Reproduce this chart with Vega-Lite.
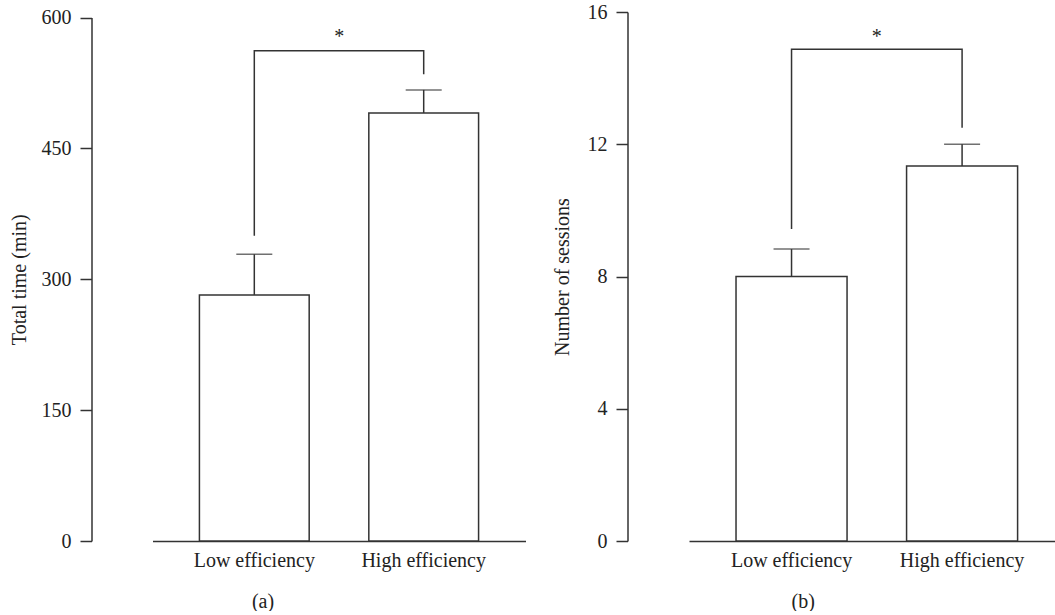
{
  "$schema": "https://vega.github.io/schema/vega-lite/v6.json",
  "padding": {"left": 8.5, "top": 2, "right": 0, "bottom": 0},
  "background": "white",
  "spacing": 26.5,
  "datasets": {
    "time": [
      {"group": "Low efficiency", "mean": 282, "upper": 328.6},
      {"group": "High efficiency", "mean": 490.6, "upper": 517}
    ],
    "timeBracket": [
      {"group": "Low efficiency", "value": 350, "order": 1},
      {"group": "Low efficiency", "value": 562, "order": 2},
      {"group": "High efficiency", "value": 562, "order": 3},
      {"group": "High efficiency", "value": 535, "order": 4}
    ],
    "timeStar": [{"group": "Low efficiency", "value": 578, "label": "*"}],
    "sessions": [
      {"group": "Low efficiency", "mean": 8.0, "upper": 8.83},
      {"group": "High efficiency", "mean": 11.34, "upper": 12.0}
    ],
    "sessionsBracket": [
      {"group": "Low efficiency", "value": 9.44, "order": 1},
      {"group": "Low efficiency", "value": 14.87, "order": 2},
      {"group": "High efficiency", "value": 14.87, "order": 3},
      {"group": "High efficiency", "value": 12.5, "order": 4}
    ],
    "sessionsStar": [{"group": "Low efficiency", "value": 15.25, "label": "*"}]
  },
  "hconcat": [
    {
      "width": 373,
      "height": 529,
      "encoding": {
        "x": {
          "field": "group", "type": "nominal",
          "sort": ["Low efficiency", "High efficiency"],
          "scale": {"paddingInner": 0.352, "paddingOuter": 0.277},
          "axis": {"title": "(a)", "titleX": 110, "titleY": 60, "titleBaseline": "middle", "titleAlign": "center", "labelAngle": 0, "ticks": false, "labelPadding": 9}
        }
      },
      "layer": [
        {
          "data": {"name": "time"},
          "mark": {"type": "bar", "fill": "white", "stroke": "#333333", "strokeWidth": 1.5},
          "encoding": {
            "y": {"field": "mean", "type": "quantitative",
              "scale": {"domain": [0, 600], "range": [529, 5.5], "nice": false},
              "axis": {"title": "Total time (min)", "values": [0, 150, 300, 450, 600], "offset": 61, "tickSize": 11.5, "labelPadding": 9, "titlePadding": 12}}
          }
        },
        {
          "data": {"name": "time"},
          "mark": {"type": "rule", "color": "#333333", "strokeWidth": 1.5},
          "encoding": {"y": {"field": "mean", "type": "quantitative"}, "y2": {"field": "upper"}}
        },
        {
          "data": {"name": "time"},
          "mark": {"type": "tick", "color": "#333333", "size": 36, "thickness": 1.5},
          "encoding": {"y": {"field": "upper", "type": "quantitative"}}
        },
        {
          "data": {"name": "timeBracket"},
          "mark": {"type": "line", "color": "#333333", "strokeWidth": 1.5},
          "encoding": {"y": {"field": "value", "type": "quantitative"}, "order": {"field": "order", "type": "quantitative"}}
        },
        {
          "data": {"name": "timeStar"},
          "mark": {"type": "text", "fontSize": 20, "font": "Liberation Serif", "color": "#222222", "dx": 85, "baseline": "middle"},
          "encoding": {"y": {"field": "value", "type": "quantitative"}, "text": {"field": "label"}}
        }
      ]
    },
    {
      "width": 366,
      "height": 529,
      "encoding": {
        "x": {
          "field": "group", "type": "nominal",
          "sort": ["Low efficiency", "High efficiency"],
          "scale": {"paddingInner": 0.349, "paddingOuter": 0.2475, "align": 0.557},
          "axis": {"title": "(b)", "titleX": 113.7, "titleY": 60, "titleBaseline": "middle", "titleAlign": "center", "labelAngle": 0, "ticks": false, "labelPadding": 9}
        }
      },
      "layer": [
        {
          "data": {"name": "sessions"},
          "mark": {"type": "bar", "fill": "white", "stroke": "#333333", "strokeWidth": 1.5},
          "encoding": {
            "y": {"field": "mean", "type": "quantitative",
              "scale": {"domain": [0, 16], "nice": false},
              "axis": {"title": "Number of sessions", "values": [0, 4, 8, 12, 16], "offset": 61.5, "tickSize": 11.5, "labelPadding": 9, "titlePadding": 14.5}}
          }
        },
        {
          "data": {"name": "sessions"},
          "mark": {"type": "rule", "color": "#333333", "strokeWidth": 1.5},
          "encoding": {"y": {"field": "mean", "type": "quantitative"}, "y2": {"field": "upper"}}
        },
        {
          "data": {"name": "sessions"},
          "mark": {"type": "tick", "color": "#333333", "size": 36, "thickness": 1.5},
          "encoding": {"y": {"field": "upper", "type": "quantitative"}}
        },
        {
          "data": {"name": "sessionsBracket"},
          "mark": {"type": "line", "color": "#333333", "strokeWidth": 1.5},
          "encoding": {"y": {"field": "value", "type": "quantitative"}, "order": {"field": "order", "type": "quantitative"}}
        },
        {
          "data": {"name": "sessionsStar"},
          "mark": {"type": "text", "fontSize": 20, "font": "Liberation Serif", "color": "#222222", "dx": 85.2, "baseline": "middle"},
          "encoding": {"y": {"field": "value", "type": "quantitative"}, "text": {"field": "label"}}
        }
      ]
    }
  ],
  "config": {
    "font": "Liberation Serif",
    "view": {"stroke": null},
    "axis": {
      "labelFont": "Liberation Serif", "titleFont": "Liberation Serif",
      "labelFontSize": 20, "titleFontSize": 20, "titleFontWeight": "normal",
      "labelColor": "#222222", "titleColor": "#222222",
      "domainColor": "#333333", "domainWidth": 1.5, "tickColor": "#333333", "tickWidth": 1.5,
      "grid": false
    }
  }
}
